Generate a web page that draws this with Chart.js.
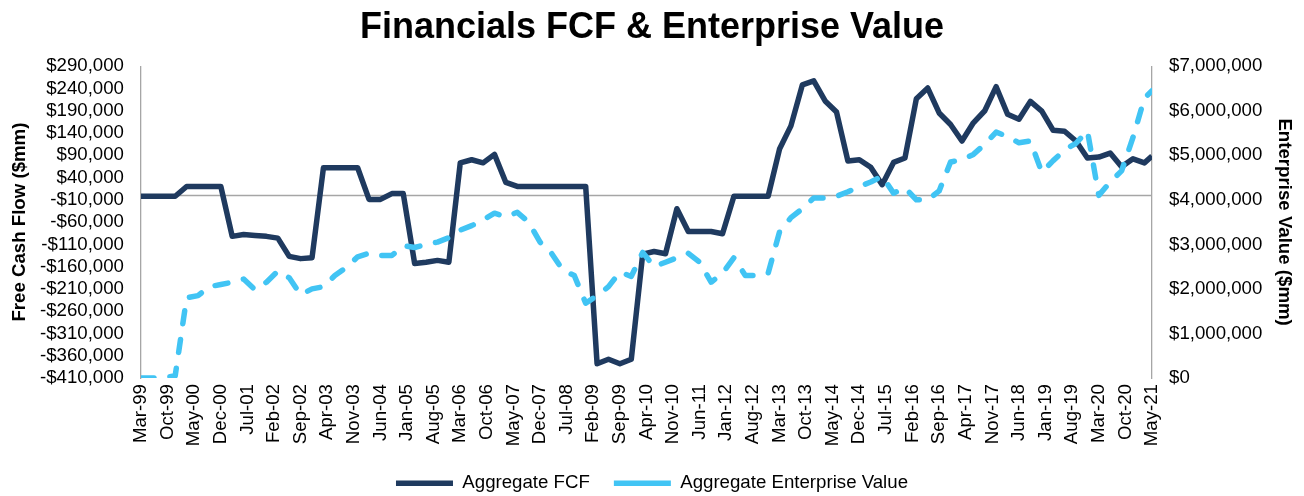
<!DOCTYPE html>
<html>
<head>
<meta charset="utf-8">
<script src="https://cdn.jsdelivr.net/npm/chart.js@4"></script>
<style>
  html, body { margin: 0; padding: 0; background: #fff; }
  #wrap { width: 1304px; height: 496px; }
</style>
</head>
<body>
<div id="wrap"><canvas id="myChart" width="1304" height="496"></canvas></div>
<script>
// quarter ends (plus the last date) the values are measured on
const dates = [
  '1999-03','1999-06','1999-09','1999-12','2000-03','2000-06','2000-09','2000-12',
  '2001-03','2001-06','2001-09','2001-12','2002-03','2002-06','2002-09','2002-12',
  '2003-03','2003-06','2003-09','2003-12','2004-03','2004-06','2004-09','2004-12',
  '2005-03','2005-06','2005-09','2005-12','2006-03','2006-06','2006-09','2006-12',
  '2007-03','2007-06','2007-09','2007-12','2008-03','2008-06','2008-09','2008-12',
  '2009-03','2009-06','2009-09','2009-12','2010-03','2010-06','2010-09','2010-12',
  '2011-03','2011-06','2011-09','2011-12','2012-03','2012-06','2012-09','2012-12',
  '2013-03','2013-06','2013-09','2013-12','2014-03','2014-06','2014-09','2014-12',
  '2015-03','2015-06','2015-09','2015-12','2016-03','2016-06','2016-09','2016-12',
  '2017-03','2017-06','2017-09','2017-12','2018-03','2018-06','2018-09','2018-12',
  '2019-03','2019-06','2019-09','2019-12','2020-03','2020-06','2020-09','2020-12',
  '2021-03','2021-05'
];

// Aggregate FCF ($mm)
const fcf = [
  -2000, -2000, -2000, -2000, 20000, 20000, 20000, 20000,
  -92000, -88000, -90000, -92000, -96000, -137000, -142000, -140000,
  62000, 62000, 62000, 62000, -9000, -9000, 4000, 4000,
  -153000, -150000, -146000, -150000, 73000, 80000, 73000, 92000,
  29000, 20000, 20000, 20000, 20000, 20000, 20000, 20000,
  -378000, -368000, -378000, -368000, -132000, -126000, -131000, -30000,
  -81000, -81000, -81000, -86000, -2000, -2000, -2000, -2000,
  104000, 156000, 248000, 257000, 212000, 187000, 77000, 80000,
  63000, 24000, 74000, 84000, 217000, 241000, 185000, 159000,
  122000, 163000, 190000, 244000, 182000, 171000, 211000, 189000,
  146000, 144000, 122000, 84000, 86000, 95000, 64000, 82000,
  73000, 88000
];

// Aggregate Enterprise Value ($mm)
const ev = [
  0, 0, 10000, 50000, 1800000, 1850000, 2050000, 2100000,
  2150000, 2220000, 1980000, 2150000, 2400000, 2250000, 1870000, 2000000,
  2050000, 2300000, 2480000, 2720000, 2800000, 2750000, 2750000, 2970000,
  2930000, 3000000, 3050000, 3150000, 3320000, 3420000, 3550000, 3700000,
  3620000, 3720000, 3500000, 3050000, 2800000, 2420000, 2300000, 1680000,
  1850000, 2050000, 2380000, 2280000, 2820000, 2500000, 2600000, 2700000,
  2800000, 2600000, 2150000, 2350000, 2700000, 2300000, 2300000, 2350000,
  3280000, 3600000, 3800000, 4040000, 4040000, 4080000, 4180000, 4300000,
  4400000, 4530000, 4150000, 4270000, 4000000, 4000000, 4200000, 4850000,
  4900000, 5020000, 5250000, 5520000, 5420000, 5280000, 5320000, 4620000,
  4880000, 5120000, 5270000, 5550000, 4100000, 4400000, 4650000, 5400000,
  6280000, 6450000
];

const xTickLabels = ['Mar-99','Oct-99','May-00','Dec-00','Jul-01','Feb-02','Sep-02','Apr-03',
  'Nov-03','Jun-04','Jan-05','Aug-05','Mar-06','Oct-06','May-07','Dec-07','Jul-08','Feb-09',
  'Sep-09','Apr-10','Nov-10','Jun-11','Jan-12','Aug-12','Mar-13','Oct-13','May-14','Dec-14',
  'Jul-15','Feb-16','Sep-16','Apr-17','Nov-17','Jun-18','Jan-19','Aug-19','Mar-20','Oct-20','May-21'];
const fcfTicks = [-410000,-360000,-310000,-260000,-210000,-160000,-110000,-60000,-10000,
  40000,90000,140000,190000,240000,290000];
const evTicks = [0,1000000,2000000,3000000,4000000,5000000,6000000,7000000];

const monthNames = ['Jan','Feb','Mar','Apr','May','Jun','Jul','Aug','Sep','Oct','Nov','Dec'];

// months since Mar-99
function monthIndex(s){
  const y = parseInt(s.slice(0,4)), m = parseInt(s.slice(5,7));
  return (y - 1999) * 12 + (m - 3);
}
function labelMonth(s){
  const i = monthNames.indexOf(s.slice(0,3));
  const yy = parseInt(s.slice(4));
  const y = yy > 50 ? 1900 + yy : 2000 + yy;
  return (y - 1999) * 12 + (i + 1 - 3);
}

const xTickValues = xTickLabels.map(labelMonth);
const fcfPoints = dates.map((d, i) => ({x: monthIndex(d), y: fcf[i]}));
const evPoints = dates.map((d, i) => ({x: monthIndex(d), y: ev[i]}));

function money(v){
  return (v < 0 ? '-' : '') + '$' + Math.abs(v).toLocaleString('en-US');
}

const FONT = '"Liberation Sans", Arial, sans-serif';
const AXIS_GREY = '#a6a6a6';

const zeroLine = {
  id: 'zeroLine',
  beforeDatasetsDraw(chart){
    const {ctx, chartArea} = chart;
    const y = Math.round(chart.scales.y.getPixelForValue(0)) + 0.5;
    ctx.save();
    ctx.strokeStyle = AXIS_GREY;
    ctx.lineWidth = 1.3;
    ctx.beginPath();
    ctx.moveTo(chartArea.left, y);
    ctx.lineTo(chartArea.right, y);
    ctx.stroke();
    ctx.restore();
  }
};

new Chart(document.getElementById('myChart'), {
  type: 'line',
  data: {
    datasets: [
      {
        label: 'Aggregate FCF',
        data: fcfPoints,
        yAxisID: 'y',
        borderColor: '#1f3a5f',
        backgroundColor: '#1f3a5f',
        borderWidth: 5.5,
        borderJoinStyle: 'round',
        pointRadius: 0,
        order: 2
      },
      {
        label: 'Aggregate Enterprise Value',
        data: evPoints,
        yAxisID: 'y1',
        borderColor: '#41c4f4',
        backgroundColor: '#41c4f4',
        borderWidth: 5.5,
        borderDash: [13, 16],
        borderCapStyle: 'round',
        borderJoinStyle: 'round',
        pointRadius: 0,
        order: 1
      }
    ]
  },
  plugins: [zeroLine],
  options: {
    responsive: false,
    animation: false,
    layout: { padding: 0 },
    plugins: {
      title: {
        display: true,
        text: 'Financials FCF & Enterprise Value',
        color: '#000',
        font: { family: FONT, size: 36, weight: 'bold' },
        padding: { top: 6, bottom: 17 }
      },
      legend: {
        position: 'bottom',
        maxHeight: 46,
        labels: {
          color: '#000',
          font: { family: FONT, size: 18.67 },
          usePointStyle: true,
          pointStyle: 'line',
          pointStyleWidth: 57,
          padding: 24,
          sort: (a, b) => a.datasetIndex - b.datasetIndex
        }
      },
      tooltip: { enabled: false }
    },
    scales: {
      x: {
        type: 'linear',
        min: 0,
        max: 266,
        grid: { display: false, drawTicks: false },
        border: { display: false },
        afterBuildTicks: s => { s.ticks = xTickValues.map(v => ({value: v})); },
        afterFit: s => { s.height = 72; },
        ticks: {
          autoSkip: false,
          minRotation: 90,
          maxRotation: 90,
          padding: 6,
          color: '#000',
          font: { family: FONT, size: 18.67 },
          callback: (v, i) => xTickLabels[i]
        }
      },
      y: {
        position: 'left',
        min: -410000,
        max: 290000,
        afterBuildTicks: s => { s.ticks = fcfTicks.map(v => ({value: v})); },
        afterFit: s => { s.width = 141; },
        grid: { display: false, drawTicks: false },
        border: { display: true, color: AXIS_GREY, width: 1.3 },
        ticks: {
          autoSkip: false,
          padding: 17,
          color: '#000',
          font: { family: FONT, size: 18.67 },
          callback: v => money(v)
        },
        title: {
          display: true,
          text: 'Free Cash Flow ($mm)',
          color: '#000',
          font: { family: FONT, size: 18.67, weight: 'bold' },
          padding: { top: 9, bottom: 0 }
        }
      },
      y1: {
        position: 'right',
        min: 0,
        max: 7000000,
        afterBuildTicks: s => { s.ticks = evTicks.map(v => ({value: v})); },
        afterFit: s => { s.width = 152; },
        grid: { display: false, drawTicks: false },
        border: { display: true, color: AXIS_GREY, width: 1.3 },
        ticks: {
          autoSkip: false,
          padding: 17,
          color: '#000',
          font: { family: FONT, size: 18.67 },
          callback: v => money(v)
        },
        title: {
          display: true,
          text: 'Enterprise Value ($mm)',
          color: '#000',
          font: { family: FONT, size: 18.67, weight: 'bold' },
          padding: { top: 9, bottom: 0 }
        }
      }
    }
  }
});
</script>
</body>
</html>
